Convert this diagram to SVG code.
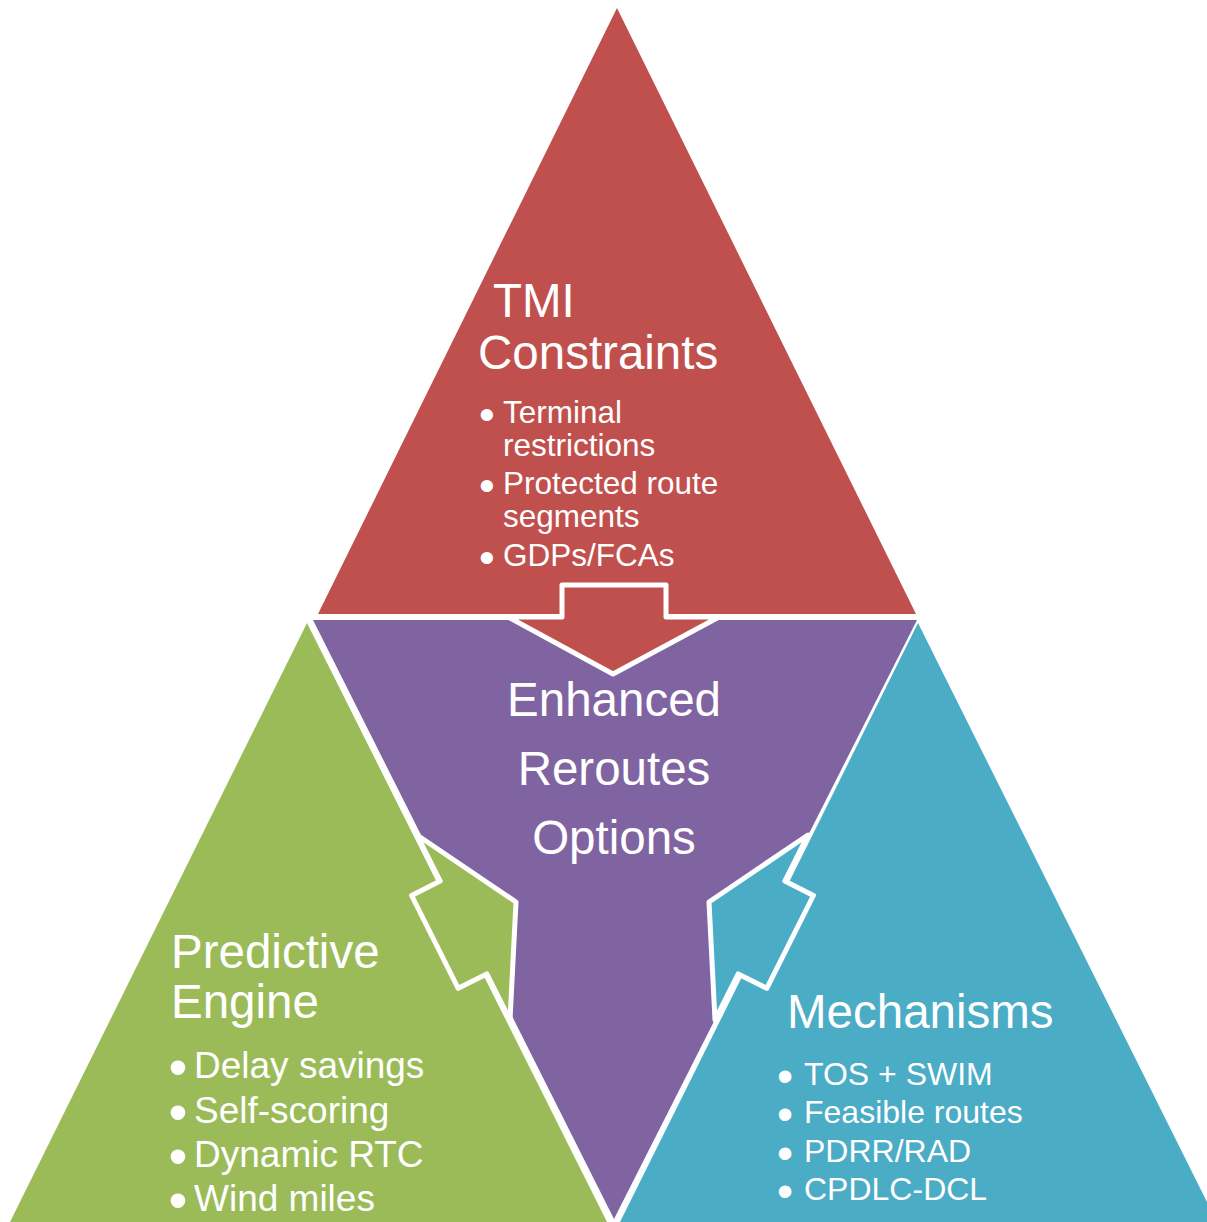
<svg xmlns="http://www.w3.org/2000/svg" width="1207" height="1222" viewBox="0 0 1207 1222">
<style>
.t{font-family:"Liberation Sans",Arial,sans-serif;fill:#FFFFFF}
.h{font-size:47.5px}
.b{font-size:31.5px}
.bg{font-size:37px}
.bb{font-size:32px}
.d1{font-size:45px}
.d2{font-size:54px}
.d3{font-size:46px}
.arr{stroke:#FFFFFF;stroke-width:5;stroke-linejoin:round}
</style>
<rect width="1207" height="1222" fill="#FFFFFF"/>
<g id="tmi">
<polygon points="617,8 318,614 916,614" fill="#C0504D"/>
</g>
<g id="enhanced">
<polygon points="313,620 917,620 614,1219" fill="#8064A2"/>
</g>
<g id="predictive">
<polygon points="307,623 10,1222 607,1222" fill="#9BBB59"/>
</g>
<g id="mechanisms">
<polygon points="918,623 620,1222 1217,1222" fill="#4BACC6"/>
</g>
<g id="connectors">
<polygon class="arr" fill="#C0504D" points="508,617 562,617 562,585 666,585 666,617 719,617 613,674"/>
<polygon class="arr" fill="#9BBB59" points="417,835 516,902 510,1020 486.8,973.9 458.2,988.3 411.6,895.5 440.2,881.1"/>
<polygon class="arr" fill="#4BACC6" points="808,835 709,902 715,1020 738.2,973.9 766.8,988.3 813.4,895.5 784.8,881.1"/>
</g>
<g id="tmi-text" class="t">
<text class="h" x="493" y="317">TMI</text>
<text class="h" x="478" y="369">Constraints</text>
<text class="b" y="423"><tspan class="d1" x="479" dy="7">•</tspan><tspan x="503" dy="-7">Terminal</tspan></text>
<text class="b" x="503" y="456">restrictions</text>
<text class="b" y="494"><tspan class="d1" x="479" dy="7">•</tspan><tspan x="503" dy="-7">Protected route</tspan></text>
<text class="b" x="503" y="527">segments</text>
<text class="b" y="566"><tspan class="d1" x="479" dy="7">•</tspan><tspan x="503" dy="-7">GDPs/FCAs</tspan></text>
</g>
<g id="enhanced-text" class="t" text-anchor="middle">
<text class="h" x="614" y="716">Enhanced</text>
<text class="h" x="614" y="785">Reroutes</text>
<text class="h" x="614" y="854">Options</text>
</g>
<g id="predictive-text" class="t">
<text class="h" x="171" y="968">Predictive</text>
<text class="h" x="171" y="1018">Engine</text>
<text class="bg" y="1078"><tspan class="d2" x="168.5" dy="8">•</tspan><tspan x="194" dy="-8">Delay savings</tspan></text>
<text class="bg" y="1123"><tspan class="d2" x="168.5" dy="8">•</tspan><tspan x="194" dy="-8">Self-scoring</tspan></text>
<text class="bg" y="1167"><tspan class="d2" x="168.5" dy="8">•</tspan><tspan x="194" dy="-8">Dynamic RTC</tspan></text>
<text class="bg" y="1211"><tspan class="d2" x="168.5" dy="8">•</tspan><tspan x="194" dy="-8">Wind miles</tspan></text>
</g>
<g id="mechanisms-text" class="t">
<text class="h" x="787" y="1028">Mechanisms</text>
<text class="bb" y="1085"><tspan class="d3" x="777" dy="7">•</tspan><tspan x="804" dy="-7">TOS + SWIM</tspan></text>
<text class="bb" y="1123"><tspan class="d3" x="777" dy="7">•</tspan><tspan x="804" dy="-7">Feasible routes</tspan></text>
<text class="bb" y="1162"><tspan class="d3" x="777" dy="7">•</tspan><tspan x="804" dy="-7">PDRR/RAD</tspan></text>
<text class="bb" y="1200"><tspan class="d3" x="777" dy="7">•</tspan><tspan x="804" dy="-7">CPDLC-DCL</tspan></text>
</g>
</svg>
